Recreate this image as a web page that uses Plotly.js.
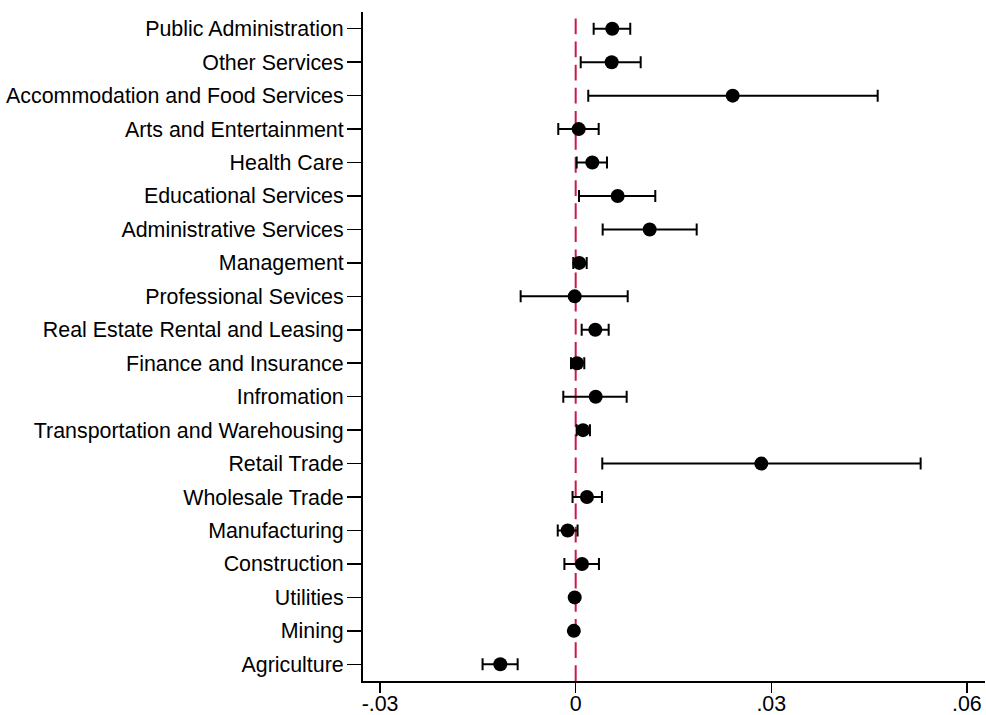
<!DOCTYPE html>
<html>
<head>
<meta charset="utf-8">
<script src="https://cdn.plot.ly/plotly-3.0.1.min.js"></script>
<style>
  html, body { margin: 0; padding: 0; background: #fff; }
  #chart { width: 986px; height: 715px; }
</style>
</head>
<body>
<div id="chart"></div>
<script>
// Categories, bottom to top
const categories = [
  "Agriculture", "Mining", "Utilities", "Construction", "Manufacturing",
  "Wholesale Trade", "Retail Trade", "Transportation and Warehousing", "Infromation",
  "Finance and Insurance", "Real Estate Rental and Leasing", "Professional Sevices",
  "Management", "Administrative Services", "Educational Services", "Health Care",
  "Arts and Entertainment", "Accommodation and Food Services", "Other Services",
  "Public Administration"
];
// Point estimates
const estimate = [
  -0.01156, -0.00028, -0.00015, 0.00097, -0.00123,
  0.00173, 0.02847, 0.00112, 0.00307,
  0.00020, 0.00301, -0.00015,
  0.00055, 0.01135, 0.00644, 0.00255,
  0.00046, 0.02408, 0.00552,
  0.00561
];
// Lower bounds of the confidence intervals
const lower = [
  -0.01428, -0.00050, -0.00040, -0.00173, -0.00275,
  -0.00048, 0.00408, 0.00015, -0.00190,
  -0.00072, 0.00092, -0.00844,
  -0.00037, 0.00414, 0.00051, 0.00015,
  -0.00267, 0.00193, 0.00077,
  0.00276
];
// Upper bounds of the confidence intervals
const upper = [
  -0.00890, 0.00000, 0.00010, 0.00357, 0.00029,
  0.00403, 0.05291, 0.00219, 0.00782,
  0.00132, 0.00506, 0.00798,
  0.00169, 0.01856, 0.01221, 0.00480,
  0.00353, 0.04632, 0.00997,
  0.00837
];
// X tick labels
const xTickVals = [-0.03, 0, 0.03, 0.06];
const xTickText = ["-.03", "0", ".03", ".06"];

const trace = {
  type: "scatter",
  mode: "markers",
  x: estimate,
  y: categories,
  marker: { color: "#000", size: 14, line: { width: 0 } },
  error_x: {
    type: "data",
    symmetric: false,
    array: upper.map((u, i) => u - estimate[i]),
    arrayminus: lower.map((l, i) => estimate[i] - l),
    color: "#000",
    thickness: 2,
    width: 6
  },
  hoverinfo: "x+y",
  showlegend: false
};

const font = { family: "Arial, 'Liberation Sans', sans-serif", size: 21.4, color: "#000" };

const layout = {
  width: 986,
  height: 715,
  margin: { l: 363, r: 1, t: 12, b: 34, pad: 0 },
  paper_bgcolor: "#fff",
  plot_bgcolor: "#fff",
  font: font,
  showlegend: false,
  xaxis: {
    range: [-0.03262, 0.06278],
    tickvals: xTickVals,
    ticktext: xTickText,
    ticks: "outside",
    ticklen: 10,
    tickwidth: 1.5,
    tickcolor: "#000",
    ticklabelstandoff: -8,
    showline: true,
    linecolor: "#000",
    linewidth: 2,
    showgrid: false,
    zeroline: false,
    tickfont: font
  },
  yaxis: {
    type: "category",
    categoryorder: "array",
    categoryarray: categories,
    range: [-0.5, 19.5],
    ticks: "outside",
    ticklen: 14,
    tickwidth: 1.5,
    tickcolor: "#000",
    ticklabelstandoff: -1,
    showline: true,
    linecolor: "#000",
    linewidth: 2,
    showgrid: false,
    zeroline: false,
    tickfont: font
  },
  shapes: [{
    type: "line",
    xref: "x", yref: "paper",
    x0: 0, x1: 0, y0: 0, y1: 1,
    layer: "below",
    line: { color: "#CC1A48", width: 2, dash: "15.7px,7.4px" }
  }]
};

Plotly.newPlot("chart", [trace], layout, { displayModeBar: false, staticPlot: true });
</script>
</body>
</html>
